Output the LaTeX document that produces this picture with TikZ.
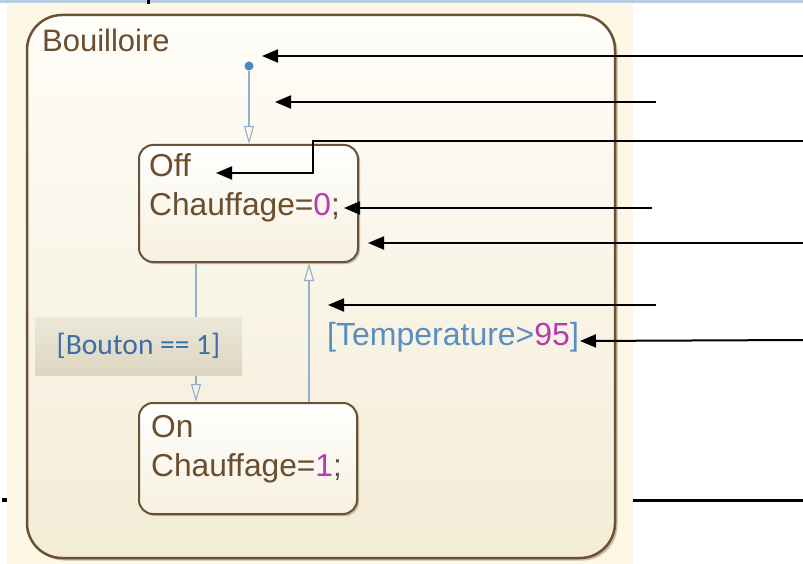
\documentclass[tikz,border=0pt]{standalone}
\usepackage{fontspec}
\setmainfont{Liberation Sans}
\newfontfamily\guardfont{Carlito}
\usetikzlibrary{arrows.meta,shadows}

\definecolor{chartbrown}{HTML}{6B5237}
\definecolor{textbrown}{HTML}{6A4E2E}
\definecolor{transblue}{HTML}{92B0CA}
\definecolor{dotblue}{HTML}{4A86C8}
\definecolor{guardblue}{HTML}{5A8DC0}
\definecolor{labelblue}{HTML}{3D6DA5}
\definecolor{valmagenta}{HTML}{B83AAE}
\definecolor{pagecream}{HTML}{FDF8E6}
\definecolor{stripblue}{HTML}{B8CCE4}
\definecolor{charttop}{HTML}{FEFDF8}
\definecolor{chartbottom}{HTML}{F3ECD6}
\definecolor{statebottom}{HTML}{F6F0E0}
\definecolor{guardtop}{HTML}{ECE8DA}
\definecolor{guardbottom}{HTML}{DCD6C0}

\tikzset{
  chart/.style={draw=chartbrown, line width=2.5pt, rounded corners=35pt,
    top color=charttop, bottom color=chartbottom,
    drop shadow={shadow xshift=2.5pt, shadow yshift=-2.5pt, opacity=0.35, fill=chartbrown}},
  statebox/.style={draw=chartbrown, line width=2pt, rounded corners=14pt,
    top color=white, bottom color=statebottom,
    drop shadow={shadow xshift=2pt, shadow yshift=-2pt, opacity=0.35, fill=chartbrown}},
  txt/.style={anchor=base west, inner sep=0pt, font=\fontsize{31.7}{32}\selectfont, text=textbrown},
  trans/.style={draw=transblue, line width=1.1pt, -{Triangle[open, length=18pt, width=10pt]}},
  note/.style={draw=black, line width=2pt, -{Triangle[length=16pt, width=13pt]}},
}

\begin{document}
\begin{tikzpicture}[x=1pt, y=-1pt]
\useasboundingbox (0,0) rectangle (803,564);

% page background, top strip and stray marks
\fill[pagecream] (7,3) rectangle (633,564);
\fill[stripblue] (0,0) rectangle (803,3);
\fill[black] (147,0) rectangle (150,4);
\fill[black] (2,498) rectangle (7,502);

% chart frame
\node[chart, minimum width=588pt, minimum height=543pt, inner sep=0pt] (chart) at (321,286.5) {};
\node[txt, font=\fontsize{31}{32}\selectfont] (title) at (42,52) {Bouilloire};

% states
\node[statebox, minimum width=219pt, minimum height=117pt, inner sep=0pt] (off) at (248.5,203.5) {};
\node[txt] (offname) at (149,177) {Off};
\node[txt] (offact) at (149,216) {Chauffage=\textcolor{valmagenta}{0};};

\node[statebox, minimum width=218pt, minimum height=111pt, inner sep=0pt] (on) at (248,458.5) {};
\node[txt] (onname) at (151,437) {On};
\node[txt] (onact) at (151,476) {Chauffage=\textcolor{valmagenta}{1};};

% default transition
\node[circle, fill=dotblue, inner sep=0pt, minimum size=9pt] (init) at (249,66) {};
\draw[trans] (init) -- (init |- off.north);

% transitions between states
\coordinate (tdown) at (196,0);
\coordinate (tup) at (309,0);
\draw[trans] (off.south -| tdown) -- (on.north -| tdown);
\draw[trans] (on.north -| tup) -- (off.south -| tup);

% guards
\node[top color=guardtop, bottom color=guardbottom, minimum width=207pt, minimum height=58pt,
  inner sep=0pt, font=\guardfont\fontsize{29.5}{30}\selectfont, text=labelblue] (bouton) at (138.5,346) {[Bouton == 1]};
\node[anchor=base west, inner sep=0pt, font=\fontsize{32}{32}\selectfont, text=guardblue] (temp) at (327,345)
  {[Temperature>\textcolor{valmagenta}{95}]};

% annotation pointers
\coordinate (n1s) at (803,56);  \coordinate (n1e) at (262,56);
\coordinate (n2s) at (656,102); \coordinate (n2e) at (275,102);
\coordinate (n3s) at (803,141); \coordinate (n3a) at (313,141); \coordinate (n3b) at (313,173); \coordinate (n3e) at (216,173);
\coordinate (n4s) at (652,208); \coordinate (n4e) at (344,208);
\coordinate (n5s) at (803,243); \coordinate (n5e) at (368,243);
\coordinate (n6s) at (656,305); \coordinate (n6e) at (328,305);
\coordinate (n7s) at (803,340); \coordinate (n7e) at (580,341);
\coordinate (n8s) at (633,500); \coordinate (n8e) at (803,500);

\draw[note] (n1s) -- (n1e);
\draw[note] (n2s) -- (n2e);
\draw[note] (n3s) -- (n3a) -- (n3b) -- (n3e);
\draw[note] (n4s) -- (n4e);
\draw[note] (n5s) -- (n5e);
\draw[note] (n6s) -- (n6e);
\draw[note] (n7s) -- (n7e);
\draw[black, line width=3pt] (n8s) -- (n8e);
\end{tikzpicture}
\end{document}
